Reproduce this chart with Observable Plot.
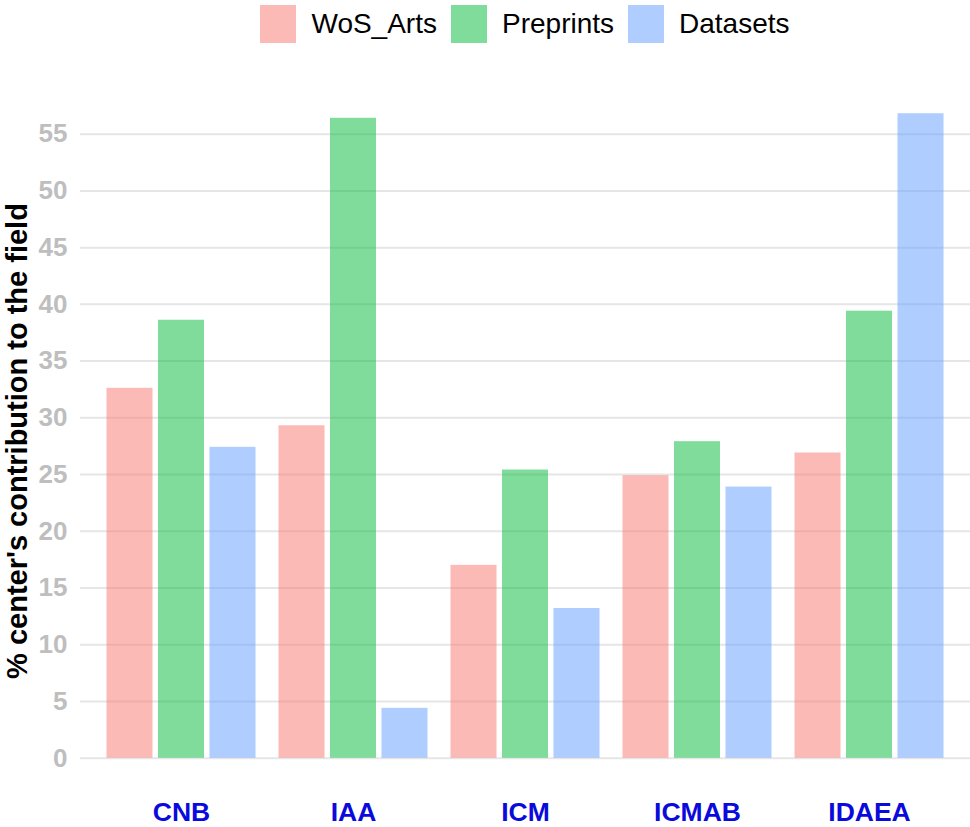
<!DOCTYPE html>
<html>
<head>
<meta charset="utf-8">
<script src="https://cdn.jsdelivr.net/npm/d3@7"></script>
<script src="https://cdn.jsdelivr.net/npm/@observablehq/plot@0.6"></script>
<style>
  body { margin: 0; background: #fff; font-family: "Liberation Sans", Arial, sans-serif; }
  #legend { height: 48px; display: flex; align-items: center; justify-content: center; padding-left: 80px; box-sizing: border-box; width: 970px; }
  .item { display: flex; align-items: center; margin-right: 14px; font-size: 28px; color: #000; }
  .item:last-child { margin-right: 0; }
  .sw { width: 36px; height: 38px; margin-right: 15px; opacity: 0.5; }
</style>
</head>
<body>
<div id="legend"></div>
<div id="chart"></div>
<script>
const institutes = ["CNB", "IAA", "ICM", "ICMAB", "IDAEA"];
const series = ["WoS_Arts", "Preprints", "Datasets"];
const wosArts = [32.6, 29.3, 17.0, 24.9, 26.9];
const preprints = [38.6, 56.4, 25.4, 27.9, 39.4];
const datasets = [27.4, 4.4, 13.2, 23.9, 56.8];
const seriesColors = ["#F8766D", "#00BA38", "#619CFF"];
const yTicks = [0, 5, 10, 15, 20, 25, 30, 35, 40, 45, 50, 55];
const yLabel = "% center's contribution to the field";

const valuesBySeries = [wosArts, preprints, datasets];
const rows = institutes.flatMap((inst, i) =>
  series.map((s, k) => ({inst, series: s, value: valuesBySeries[k][i]}))
);

// legend
const legend = document.getElementById("legend");
series.forEach((s, k) => {
  const item = document.createElement("div");
  item.className = "item";
  const sw = document.createElement("div");
  sw.className = "sw";
  sw.style.background = seriesColors[k];
  const t = document.createElement("span");
  t.textContent = s;
  item.appendChild(sw);
  item.appendChild(t);
  legend.appendChild(item);
});

const insets = [
  {insetLeft: 0, insetRight: 103},
  {insetLeft: 51.5, insetRight: 51.5},
  {insetLeft: 103, insetRight: 0}
];

const chart = Plot.plot({
  width: 970,
  height: 779,
  marginLeft: 80,
  marginRight: 0,
  marginTop: 33,
  marginBottom: 37,
  style: {fontFamily: "'Liberation Sans', Arial, sans-serif", background: "#fff"},
  x: {type: "band", domain: institutes, paddingInner: 0.1337, paddingOuter: 0.154, round: false, label: null, axis: null},
  y: {domain: [-2.84, 59.64], label: null, axis: null},
  color: {domain: series, range: seriesColors},
  marks: [
    Plot.gridY(yTicks, {stroke: "#e6e6e6", strokeOpacity: 1, strokeWidth: 2}),
    ...series.map((s, k) => Plot.barY(rows.filter(d => d.series === s), {
      x: "inst", y: "value", fill: "series", fillOpacity: 0.5, ...insets[k]
    })),
    Plot.axisX({tickSize: 0, tickPadding: 12, fontSize: 26.5, fontWeight: "bold", color: "#0A0ADC", fill: "#0A0ADC", label: null}),
    Plot.axisY({ticks: yTicks, tickSize: 0, tickPadding: 13, fontSize: 26, fontWeight: "bold", fill: "#BEBEBE", color: "#BEBEBE", label: null}),
    Plot.text([yLabel], {frameAnchor: "left", dx: -63, dy: 5, rotate: -90, fontSize: 29, fontWeight: "bold", fill: "#000", textAnchor: "middle"})
  ]
});
document.getElementById("chart").appendChild(chart);
</script>
</body>
</html>
